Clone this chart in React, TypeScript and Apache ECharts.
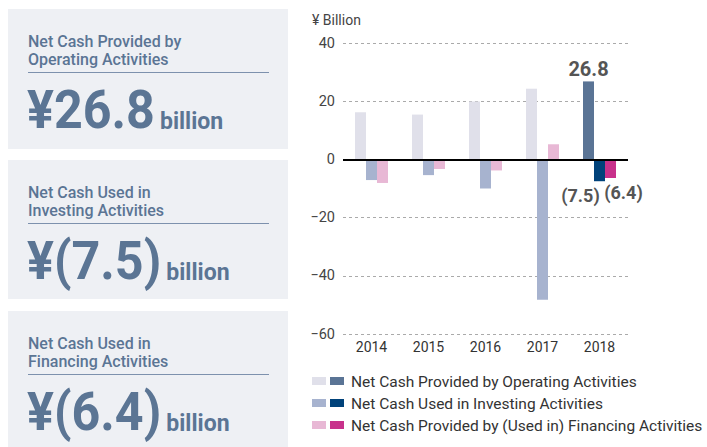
import React, { useEffect, useRef } from 'react';
import * as echarts from 'echarts';

const years = ['2014', '2015', '2016', '2017', '2018'];
const operating = [16.2, 15.4, 19.9, 24.3, 26.8];
const investing = [-7.1, -5.4, -10.0, -48.2, -7.5];
const financing = [-8.1, -3.3, -3.8, 5.2, -6.4];
const seriesNames = [
  'Net Cash Provided by Operating Activities',
  'Net Cash Used in Investing Activities',
  'Net Cash Provided by (Used in) Financing Activities',
];
const panelTitles = [
  ['Net Cash Provided by', 'Operating Activities'],
  ['Net Cash Used in', 'Investing Activities'],
  ['Net Cash Used in', 'Financing Activities'],
];
const panelValues = ['¥26.8', '¥(7.5)', '¥(6.4)'];
const yTicks = { min: -60, max: 40, interval: 20 };

const lightColors = ['#e0e0ea', '#a7b3cf', '#e8b8d5'];
const darkColors = ['#5a7495', '#00427a', '#c8318b'];
const PANEL_COLOR = '#5b7594';

function fmt(v: number) {
  return v < 0 ? `(${Math.abs(v).toFixed(1)})` : v.toFixed(1);
}

function measure(text: string, font: string) {
  const c = document.createElement('canvas').getContext('2d')!;
  c.font = font;
  return c.measureText(text).width;
}

export default function App() {
  const ref = useRef<HTMLDivElement>(null);
  useEffect(() => {
    document.body.style.margin = '0';
    const chart = echarts.init(ref.current!, null, { renderer: 'svg', width: 707, height: 447 });
    const allSeries = [operating, investing, financing];
    const lastIdx = years.length - 1;
    const labelOffsets = [[0, 0], [-19, 0], [13, 0]];

    const panelTops = [9, 160, 311];
    const panelHeights = [140, 139, 136];
    const graphic: any[] = [];
    const bigFont = 'bold 54px Roboto';
    const bigScale = 0.93;
    panelTops.forEach((p, i) => {
      graphic.push({ type: 'rect', shape: { x: 8, y: p, width: 280, height: panelHeights[i] }, style: { fill: '#eef0f4' }, z: 0 });
      panelTitles[i].forEach((t, j) => {
        graphic.push({
          type: 'text', x: 28, y: p + 32 + j * 18,
          style: { text: t, font: '500 16px Roboto', fill: PANEL_COLOR, verticalAlign: 'middle', align: 'left' },
        });
      });
      graphic.push({ type: 'line', shape: { x1: 28, y1: p + 63.5, x2: 269, y2: p + 63.5 }, style: { stroke: '#7d91ad', lineWidth: 1 } });
      graphic.push({
        type: 'text', x: 27, y: p + 100.5, scaleX: bigScale,
        style: { text: panelValues[i], font: bigFont, fill: PANEL_COLOR, verticalAlign: 'middle', align: 'left' },
      });
      const w = measure(panelValues[i], bigFont) * bigScale;
      graphic.push({
        type: 'text', x: 27 + w + 5, y: p + 111.5, scaleX: 0.96,
        style: { text: 'billion', font: 'bold 24px Roboto', fill: PANEL_COLOR, verticalAlign: 'middle', align: 'left' },
      });
    });
    graphic.push({
      type: 'text', x: 312, y: 20,
      style: { text: '¥ Billion', font: '14px Roboto', fill: '#444', verticalAlign: 'middle', align: 'left' },
    });
    seriesNames.forEach((name, k) => {
      const cy = 381 + k * 22;
      graphic.push({ type: 'rect', shape: { x: 312, y: cy - 4, width: 14, height: 8 }, style: { fill: lightColors[k] } });
      graphic.push({ type: 'rect', shape: { x: 330, y: cy - 4, width: 14, height: 8 }, style: { fill: darkColors[k] } });
      graphic.push({
        type: 'text', x: 351, y: cy + 0.5,
        style: { text: name, font: '15.5px Roboto', fill: '#333', verticalAlign: 'middle', align: 'left' },
      });
    });

    const series = allSeries.map((vals, s) => ({
      name: seriesNames[s],
      type: 'bar',
      barWidth: 11,
      barGap: '0%',
      itemStyle: { color: lightColors[s] },
      data: vals.map((v, i) =>
        i === lastIdx
          ? {
              value: v,
              itemStyle: { color: darkColors[s] },
              label: {
                show: true,
                position: v >= 0 ? 'top' : 'bottom',
                distance: v >= 0 ? 2 : 5,
                offset: labelOffsets[s],
                formatter: (p: any) => fmt(p.value),
                fontFamily: 'Roboto',
                fontWeight: 'bold',
                fontSize: v >= 0 ? 20 : 18,
                color: '#555',
              },
            }
          : v
      ),
      markLine: s === 0
        ? {
            silent: true,
            symbol: ['none', 'none'],
            label: { show: false },
            lineStyle: { color: '#000', width: 2, type: 'solid' },
            data: [{ yAxis: 0 }],
          }
        : undefined,
    }));

    chart.setOption({
      animation: false,
      textStyle: { fontFamily: 'Roboto' },
      grid: { left: 343, right: 79, top: 43, bottom: 113, containLabel: false },
      xAxis: {
        type: 'category',
        data: years,
        axisLine: { show: false },
        axisTick: { show: false },
        axisLabel: { color: '#333', fontSize: 14, margin: 6 },
      },
      yAxis: {
        type: 'value',
        min: yTicks.min,
        max: yTicks.max,
        interval: yTicks.interval,
        axisLine: { show: false },
        axisTick: { show: false },
        axisLabel: {
          color: '#444', fontSize: 14.5, margin: 8,
          formatter: (v: number) => (v < 0 ? '\u2212' + Math.abs(v) : String(v)),
        },
        splitLine: { lineStyle: { color: '#aaa', type: [3, 3], width: 1 } },
      },
      graphic,
      series,
    });
    return () => chart.dispose();
  }, []);
  return <div ref={ref} style={{ width: 707, height: 447 }} />;
}
